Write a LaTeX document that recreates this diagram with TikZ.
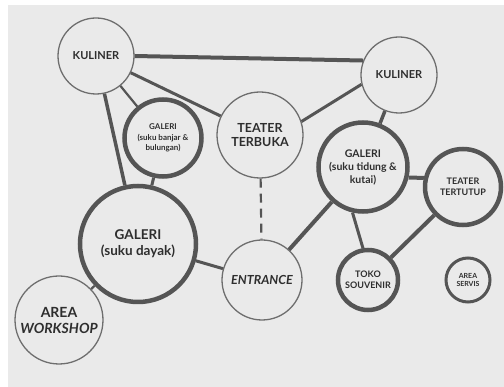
\documentclass[tikz,border=0pt]{standalone}
\usepackage{fontspec}
\setmainfont{Lato}
\usepackage{color}

\definecolor{bggray}{HTML}{EAEAEA}
\definecolor{linegray}{HTML}{555555}
\definecolor{textgray}{HTML}{2E2E2E}

\begin{document}
\begin{tikzpicture}[x=1pt, y=-1pt]
		% Define styles
		\tikzstyle{room} = [circle, draw=linegray!85!white, line width=1.3pt, fill=bggray,
		inner sep=0pt, align=center, text=textgray, font=\bfseries]
		\tikzstyle{boldroom} = [room, draw=linegray, line width=4.5pt] % Thick ring
		\tikzstyle{link} = [draw=linegray, line width=3pt]
		\tikzstyle{thinlink} = [link, line width=2.2pt]
		\tikzstyle{heavylink} = [link, line width=4pt]
		
		% Canvas
		\useasboundingbox (0,0) rectangle (504,387);
		\fill [white] (0,0) rectangle (504,387);
		\fill [bggray] (8,5) rectangle (504,387);
		
		% Place nodes
		\node [room, minimum size=76pt, font=\bfseries\fontsize{11}{13}\selectfont] (kulinerA) at (96,56) {KULINER};
		\node [room, minimum size=76pt, font=\bfseries\fontsize{11}{13}\selectfont] (kulinerB) at (399,75) {KULINER};
		\node [boldroom, minimum size=77pt, font=\bfseries\fontsize{8}{10}\selectfont] (banjar) at (163,138) {GALERI\\[1pt](suku banjar \&\\bulungan)};
		\node [room, minimum size=86pt, font=\bfseries\fontsize{12.5}{14}\selectfont] (terbuka) at (260,135) {TEATER\\TERBUKA};
		\node [boldroom, minimum size=89pt, font=\bfseries\fontsize{10.5}{12.5}\selectfont] (tidung) at (363,167) {GALERI\\[1pt](suku tidung \&\\kutai)};
		\node [boldroom, minimum size=76pt, font=\bfseries\fontsize{9}{11}\selectfont] (tertutup) at (463,187) {TEATER\\TERTUTUP};
		\node [boldroom, minimum size=116pt, font=\bfseries\fontsize{13.5}{16}\selectfont] (dayak) at (138,244) {GALERI\\(suku dayak)};
		\node [room, minimum size=80pt, font=\bfseries\itshape\fontsize{12.5}{14}\selectfont] (entrance) at (262,280) {ENTRANCE};
		\node [room, minimum size=88pt, font=\bfseries\fontsize{14}{16}\selectfont] (workshop) at (59,320) {AREA\\\textit{WORKSHOP}};
		\node [boldroom, minimum size=60pt, font=\bfseries\fontsize{9}{11}\selectfont] (toko) at (368,280) {TOKO\\SOUVENIR};
		\node [boldroom, line width=3pt, minimum size=44pt, font=\bfseries\fontsize{7}{8.5}\selectfont] (servis) at (468,280) {AREA\\SERVIS};
		
		% Draw lines
		\draw [heavylink] (kulinerA.east) -- (kulinerB.158);
		\draw [link] (kulinerA) -- (terbuka);
		\draw [thinlink] (kulinerA) -- (banjar);
		\draw [link, line width=3.5pt] (kulinerA) -- (dayak);
		\draw [link] (banjar) -- (dayak);
		\draw [link] (terbuka.18) -- (kulinerB.194);
		\draw [thinlink, dashed, dash pattern=on 9pt off 6pt] (terbuka) -- (entrance);
		\draw [link, line width=3.5pt] (kulinerB) -- (tidung);
		\draw [heavylink] (tidung.-13) -- (tertutup.167);
		\draw [heavylink] (tidung) -- (entrance);
		\draw [link] (tidung.257) -- (toko.99);
		\draw [heavylink] (tertutup) -- (toko);
		\draw [link] (dayak) -- (entrance);
		\draw [thinlink] (dayak) -- (workshop);
	\end{tikzpicture}
\end{document}
